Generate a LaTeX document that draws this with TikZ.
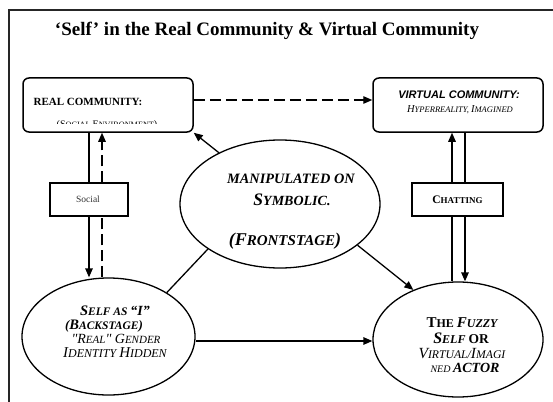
\documentclass[tikz,border=0pt]{standalone}
\usepackage{fontspec}
\setmainfont{Liberation Serif}
\newfontfamily\arialf{Liberation Sans}
\newfontfamily\serifnm{Liberation Serif}
\usetikzlibrary{arrows.meta,shapes.geometric,calc}
\newcommand\fs[1]{\fontsize{#1}{#1}\selectfont}
\newcommand\sq{{\serifnm\itshape "}}
\begin{document}
\begin{tikzpicture}[x=1pt,y=-1pt,
  rbox/.style={draw, line width=1.5pt, rounded corners=6pt, fill=white, inner sep=0},
  sqbox/.style={draw, line width=1.5pt, fill=white, inner sep=0},
  ell/.style={draw, ellipse, line width=1.3pt, inner sep=0},
  conn/.style={line width=1.3pt},
  arr/.style={conn, -{Triangle[length=9pt,width=7.5pt]}},
  dsh/.style={conn, dash pattern=on 11pt off 5pt},
  lbl/.style={inner sep=0, anchor=base}]
\useasboundingbox (0,0) rectangle (553,401);
\clip (0,0) rectangle (553,401);
% frame
\draw[line width=1.5pt, black!85] (9,420) -- (9,10) -- (570,10);
% title
\node[lbl] (title) at (267,36) {\fs{19}\bfseries ‘Self’ in the Real Community \& Virtual Community};
% shapes
\node[rbox, minimum width=170pt, minimum height=54pt] (real) at (108,105) {};
\node[rbox, minimum width=170pt, minimum height=54pt] (virt) at (458,105) {};
\node[sqbox, minimum width=78pt, minimum height=33pt] (soc) at (89,199.5) {};
\node[sqbox, minimum width=91pt, minimum height=33pt] (chat) at (457.5,199.5) {};
\node[ell, minimum width=200pt, minimum height=128pt] (mid) at (280,204) {};
\node[ell, minimum width=173pt, minimum height=117pt] (self) at (108.5,336.5) {};
\node[ell, minimum width=170pt, minimum height=115pt] (fuzzy) at (458,339.5) {};
% helper coordinates
\coordinate (xa) at (89,0);
\coordinate (xb) at (102,0);
\coordinate (xc) at (452,0);
\coordinate (xd) at (465,0);
\coordinate (yh) at (0,100);
\coordinate (yb) at (0,341);
% connectors
\draw[dsh, -{Triangle[length=9pt,width=7.5pt]}] (real.east |- yh) -- (virt.west |- yh);
\draw[conn] (real.south -| xa) -- (soc.north -| xa);
\draw[arr] (soc.south -| xa) -- (self.north -| xa);
\draw[dsh] (self.north -| xb) -- (soc.south -| xb);
\draw[dsh, -{Triangle[length=9pt,width=7.5pt]}] (soc.north -| xb) -- (real.south -| xb);
\draw[conn] (fuzzy.north -| xc) -- (chat.south -| xc);
\draw[arr] (chat.north -| xc) -- (virt.south -| xc);
\draw[conn] (virt.south -| xd) -- (chat.north -| xd);
\draw[arr] (chat.south -| xd) -- (fuzzy.north -| xd);
\draw[arr] (mid.140) -- (real.south east);
\draw[conn] (mid.212) -- (self.37);
\draw[arr] (mid.-28) -- (fuzzy.132);
\draw[arr] (self.east |- yb) -- (fuzzy.west |- yb);
% texts
\node[lbl] (realt) at (88,106) {\fs{11}\bfseries REAL COMMUNITY:};
\begin{scope}
\clip (30,114) rectangle (186,123.5);
\node[lbl] (reals) at (107,127) {\fs{10}(S\fs{8.2}OCIAL \fs{10}E\fs{8.2}NVIRONMENT\fs{10})};
\node[lbl] (virto) at (457,127) {\itshape\fs{10.5}S\fs{8.5}OCIAL \fs{10.5}O\fs{8.5}RDER};
\end{scope}
\node[lbl] (virtt) at (459,99) {\arialf\fs{11}\bfseries\itshape VIRTUAL COMMUNITY:};
\node[lbl] (virts) at (460,113) {\itshape\fs{10.5}H\fs{8.5}YPERREALITY, \fs{10.5}I\fs{8.5}MAGINED};
\node[lbl, text=black!80] (soct) at (88,202) {\fs{9.5}Social};
\node[lbl] (chatt) at (457.5,203) {\bfseries\fs{11.5}C\fs{9}HATTING};
\node[lbl] (m1) at (291,183) {\bfseries\itshape\fs{14.3}MANIPULATED ON};
\node[lbl] (m2) at (292,205) {\bfseries\itshape\fs{17.5}S\fs{14}YMBOLIC.};
\node[lbl] (m3) at (285,245) {\bfseries\itshape\fs{18}(F\fs{15}RONTSTAGE\fs{18})};
\node[lbl] (s1) at (115,315) {\bfseries\itshape\fs{14.5}S\fs{11.5}ELF AS \fs{14}“I”};
\node[lbl] (s2) at (104,329.5) {\bfseries\itshape\fs{13}(\fs{14.5}B\fs{11.5}ACKSTAGE\fs{13})};
\node[lbl] (s3) at (116,343) {\itshape\fs{14}\sq R\fs{11}EAL\fs{14}\sq{} G\fs{11}ENDER};
\node[lbl] (s4) at (115,357) {\itshape\fs{15}I\fs{12}DENTITY \fs{15}H\fs{12}IDDEN};
\node[lbl] (f1) at (462,327) {\bfseries\fs{15}T\fs{12}HE \itshape\fs{15}F\fs{12}UZZY};
\node[lbl] (f2) at (461,343) {\bfseries\itshape\fs{16}S\fs{12}ELF \upshape\fs{13.5}OR};
\node[lbl] (f3) at (462,358) {\itshape\fs{15.5}V\fs{11.7}IRTUAL/\fs{15.5}I\fs{11.7}MAGI};
\node[lbl] (f4) at (465,372) {\itshape\fs{10}NED \bfseries\fs{14}ACTOR};
\end{tikzpicture}
\end{document}
